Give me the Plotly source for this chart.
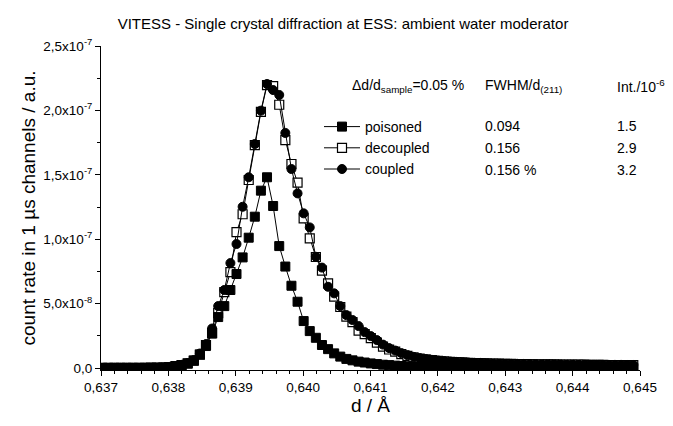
import plotly.graph_objects as go

# d grid: first channel and channel width (Å)
D_START = 0.637018
D_STEP = 0.0000906

# count rate in units of 1e-7 (one value per 1 µs channel)
poisoned = [0.001, 0.001, 0.001, 0.001, 0.001, 0.001, 0.001, 0.001, 0.001, 0.001,
            0.004, 0.008, 0.014, 0.023, 0.035, 0.058, 0.105, 0.171, 0.268, 0.396,
            0.481, 0.606, 0.730, 0.859, 1.012, 1.175, 1.377, 1.481, 1.258, 0.947,
            0.788, 0.639, 0.515, 0.365, 0.287, 0.235, 0.179, 0.147, 0.114, 0.089,
            0.071, 0.060, 0.050, 0.043, 0.036, 0.031, 0.026, 0.023, 0.019, 0.016,
            0.014, 0.012, 0.010, 0.009, 0.008, 0.007, 0.006, 0.006, 0.005, 0.005,
            0.005, 0.004, 0.004, 0.004, 0.004, 0.004, 0.004, 0.004, 0.004, 0.004,
            0.004, 0.003, 0.003, 0.003, 0.003, 0.003, 0.003, 0.003, 0.003, 0.003,
            0.003, 0.003, 0.003, 0.003, 0.003, 0.003, 0.003, 0.003]

decoupled = [0.001, 0.001, 0.001, 0.002, 0.002, 0.002, 0.002, 0.002, 0.003, 0.003,
             0.004, 0.008, 0.015, 0.023, 0.036, 0.058, 0.105, 0.179, 0.272, 0.427,
             0.590, 0.745, 1.056, 1.194, 1.460, 1.731, 1.988, 2.197, 2.189, 2.044,
             1.770, 1.584, 1.439, 1.162, 1.007, 0.862, 0.757, 0.658, 0.554, 0.474,
             0.400, 0.357, 0.291, 0.264, 0.233, 0.198, 0.167, 0.144, 0.128, 0.109,
             0.095, 0.083, 0.074, 0.067, 0.061, 0.056, 0.052, 0.049, 0.046, 0.044,
             0.041, 0.039, 0.038, 0.036, 0.035, 0.034, 0.033, 0.032, 0.031, 0.031,
             0.030, 0.029, 0.029, 0.028, 0.028, 0.027, 0.027, 0.026, 0.026, 0.026,
             0.025, 0.025, 0.025, 0.024, 0.024, 0.024, 0.023, 0.023]

coupled = [0.001, 0.001, 0.002, 0.002, 0.002, 0.002, 0.002, 0.003, 0.003, 0.003,
           0.005, 0.009, 0.016, 0.025, 0.039, 0.062, 0.113, 0.186, 0.307, 0.481,
           0.606, 0.815, 0.963, 1.252, 1.481, 1.739, 1.998, 2.205, 2.158, 2.120,
           1.825, 1.545, 1.356, 1.201, 1.092, 0.864, 0.780, 0.631, 0.580, 0.481,
           0.411, 0.373, 0.326, 0.279, 0.248, 0.217, 0.182, 0.155, 0.136, 0.116,
           0.101, 0.087, 0.078, 0.070, 0.064, 0.059, 0.054, 0.051, 0.048, 0.046,
           0.043, 0.041, 0.040, 0.038, 0.036, 0.035, 0.034, 0.033, 0.033, 0.032,
           0.031, 0.031, 0.030, 0.030, 0.029, 0.029, 0.028, 0.028, 0.027, 0.027,
           0.026, 0.026, 0.026, 0.025, 0.025, 0.025, 0.024, 0.024]

series_names = ["poisoned", "decoupled", "coupled"]
fwhm = ["0.094", "0.156", "0.156 %"]
intensity = ["1.5", "2.9", "3.2"]

y_tickvals = [0, 0.5, 1.0, 1.5, 2.0, 2.5]
y_ticktext = ["0,0", "5,0x10<sup>-8</sup>", "1,0x10<sup>-7</sup>", "1,5x10<sup>-7</sup>",
              "2,0x10<sup>-7</sup>", "2,5x10<sup>-7</sup>"]
y_minor = [0.25, 0.75, 1.25, 1.75, 2.25]

FONT = "Arial, Liberation Sans, sans-serif"

# the page body adds an 8px offset; lay out in window pixels, then shift
OFF = 8
W, H = 673 - OFF, 426 - OFF
L, R, T, B = 101 - OFF, 33, 46 - OFF, 56
pw, ph = W - L - R, H - T - B


def px(xw):
    return (xw - OFF - L) / pw


def py(yw):
    return (H - B - (yw - OFF)) / ph


styles = {
    "poisoned": dict(symbol="square", color="black", line=dict(color="black", width=1)),
    "decoupled": dict(symbol="square", color="white", line=dict(color="black", width=1.2)),
    "coupled": dict(symbol="circle", color="black", line=dict(color="black", width=1)),
}
values = {"poisoned": poisoned, "decoupled": decoupled, "coupled": coupled}
rank = {"poisoned": 1, "decoupled": 2, "coupled": 3}

fig = go.Figure()
for name in ["decoupled", "poisoned", "coupled"]:
    st = styles[name]
    fig.add_trace(go.Scatter(
        x0=D_START, dx=D_STEP, y=values[name], name=name, mode="lines+markers",
        legendrank=rank[name],
        line=dict(color="black", width=1),
        marker=dict(size=9, symbol=st["symbol"], color=st["color"], line=st["line"]),
    ))

ROW0, ROWSTEP = 126, 22
annos = [
    dict(x=px(350), y=py(86), text="Δd/d<sub>sample</sub>=0.05 %"),
    dict(x=px(483), y=py(86), text="FWHM/d<sub>(211)</sub>"),
    dict(x=px(615), y=py(86), text="Int./10<sup>-6</sup>"),
]
for k, (f, it) in enumerate(zip(fwhm, intensity)):
    yy = py(ROW0 + ROWSTEP * k)
    annos.append(dict(x=px(483), y=yy, text=f))
    annos.append(dict(x=px(615), y=yy, text=it))
for a in annos:
    a.update(xref="paper", yref="paper", xanchor="left", yanchor="middle",
             showarrow=False, font=dict(family=FONT, size=14, color="black"))

fig.update_layout(
    width=W, height=H, autosize=False,
    margin=dict(l=L, r=R, t=T, b=B, pad=0),
    paper_bgcolor="white", plot_bgcolor="white",
    separators=",.",
    font=dict(family=FONT, color="black"),
    title=dict(text="VITESS - Single crystal diffraction at ESS: ambient water moderator",
               x=(343 - OFF) / W, xanchor="center", xref="container",
               y=1 - 16 / H, yanchor="middle", yref="container",
               font=dict(family=FONT, size=15, color="black")),
    legend=dict(x=px(319), y=py(111), xanchor="left", yanchor="top",
                bgcolor="rgba(0,0,0,0)",
                font=dict(family=FONT, size=14, color="black"),
                itemwidth=36, tracegroupgap=0),
    annotations=annos,
    xaxis=dict(range=[0.637, 0.645], tick0=0.637, dtick=0.001, tickformat=".3f",
               showline=True, linecolor="black", linewidth=1, mirror=False,
               ticks="outside", ticklen=5, tickwidth=1, tickcolor="black",
               minor=dict(dtick=0.0002, tick0=0.637, ticks="outside", ticklen=3,
                          tickcolor="black", showgrid=False),
               showgrid=False, zeroline=False, automargin=False,
               tickfont=dict(family=FONT, size=13.5, color="black"),
               title=dict(text="d / Å", standoff=4,
                          font=dict(family=FONT, size=19, color="black"))),
    yaxis=dict(range=[-0.015, 2.5], tickmode="array", tickvals=y_tickvals,
               ticktext=y_ticktext,
               showline=True, linecolor="black", linewidth=1, mirror=False,
               ticks="outside", ticklen=5, tickwidth=1, tickcolor="black",
               minor=dict(tickvals=y_minor, ticks="outside", ticklen=3,
                          tickcolor="black", showgrid=False),
               showgrid=False, zeroline=False, automargin=False,
               tickfont=dict(family=FONT, size=13.5, color="black"),
               title=dict(text="count rate in 1 µs channels / a.u.", standoff=2,
                          font=dict(family=FONT, size=19, color="black"))),
)

fig.write_html("out.html")
